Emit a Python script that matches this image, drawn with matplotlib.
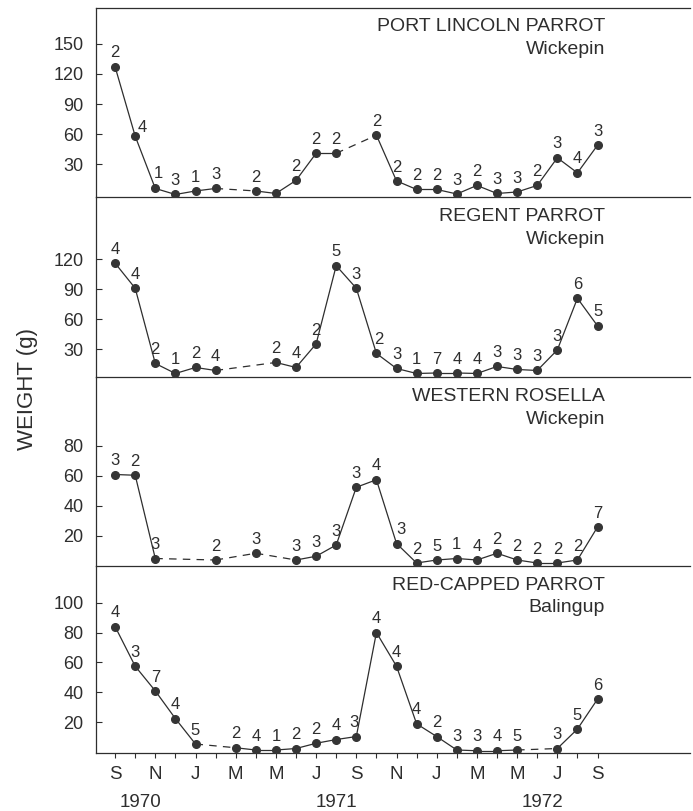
import matplotlib
matplotlib.use("Agg")
import matplotlib.pyplot as plt
import matplotlib.transforms as mtransforms
import numpy as np

nan = np.nan

# months from Sep 1970 (0) to Sep 1972 (24)
months = np.arange(25)
month_letters = ["S", "N", "J", "M", "M", "J", "S", "N", "J", "M", "M", "J", "S"]
years = ["1970", "1971", "1972"]

# mean weight (g) per month, nan = no sample
port_lincoln_wt = [127, 58, 6, 0, 3.5, 6, nan, 3.5, 1, 14, 41, 41, nan, 59,
                   13.5, 5, 5, 0.5, 9, 1, 2.5, 9, 36.5, 21.5, 49]
port_lincoln_n = [2, 4, 1, 3, 1, 3, None, 2, None, 2, 2, 2, None, 2,
                  2, 2, 2, 3, 2, 3, 3, 2, 3, 4, 3]

regent_wt = [116, 91, 16, 6, 12, 9, nan, nan, 17, 12, 35.5, 113.5, 91, 26,
             11, 6, 6.5, 6.5, 6, 13, 10, 9, 29.5, 81, 53.5]
regent_n = [4, 4, 2, 1, 2, 4, None, None, 2, 4, 2, 5, 3, 2,
            3, 1, 7, 4, 4, 3, 3, 3, 3, 6, 5]

rosella_wt = [61, 60.5, 5, nan, nan, 4, nan, 8.5, nan, 4, 6.5, 14, 52.5, 57.5,
              15, 2, 4, 5, 4, 8.5, 4, 2, 2, 4, 26]
rosella_n = [3, 2, 3, None, None, 2, None, 3, None, 3, 3, 3, 3, 4,
             3, 2, 5, 1, 4, 2, 2, 2, 2, 2, 7]

redcap_wt = [84, 57.5, 41, 22.5, 5.5, nan, 3, 1.5, 1.5, 2.5, 6, 8.5, 10.5, 80,
             57.5, 19, 10.5, 1.5, 1, 1, 1.5, nan, 2.5, 15.5, 35.5]
redcap_n = [4, 3, 7, 4, 5, None, 2, 4, 1, 2, 2, 4, 3, 4,
            4, 4, 2, 3, 3, 4, 5, None, 3, 5, 6]

panels = [
    ("PORT LINCOLN PARROT", "Wickepin", port_lincoln_wt, port_lincoln_n,
     [30, 60, 90, 120, 150], (-2.5, 185.5)),
    ("REGENT PARROT", "Wickepin", regent_wt, regent_n,
     [30, 60, 90, 120], (2.5, 182)),
    ("WESTERN ROSELLA", "Wickepin", rosella_wt, rosella_n,
     [20, 40, 60, 80], (0, 126)),
    ("RED-CAPPED PARROT", "Balingup", redcap_wt, redcap_n,
     [20, 40, 60, 80, 100], (-0.5, 124.5)),
]

# small nudges (points) for a few sample-size labels
nudges = {(0, 1): (5, -4), (0, 2): (2, 1), (1, 13): (2, 0), (2, 14): (3, 0),
          (3, 12): (-2, 0)}

ink = "#2e2e2e"
plt.rcParams["font.family"] = ["Liberation Sans", "DejaVu Sans"]
plt.rcParams["text.color"] = ink

W, H = 693, 811
fig = plt.figure(figsize=(W / 100, H / 100), dpi=100)

# panel rows in pixels (top, bottom)
rows = [(8, 197), (197, 377), (377, 566), (566, 753)]
left_px, right_px = 96, 690

axes = []
for k, (title, site, wt, counts, yticks, ylim) in enumerate(panels):
    top, bot = rows[k]
    ax = fig.add_axes([left_px / W, 1 - bot / H, (right_px - left_px) / W, (bot - top) / H])
    ax.patch.set_visible(False)  # keep the separator line of the panel above visible
    axes.append(ax)
    y = np.array(wt, dtype=float)
    idx = np.where(~np.isnan(y))[0]

    # solid between consecutive months, dashed across missing months
    for a, b in zip(idx[:-1], idx[1:]):
        ls = "-" if b - a == 1 else (0, (6, 5))
        ax.plot([months[a], months[b]], [y[a], y[b]], color=ink, lw=0.9, ls=ls)
    ax.plot(months[idx], y[idx], "o", ms=5.5, color="#353535", zorder=3)

    for i, n in enumerate(counts):
        if n is None:
            continue
        dx, dy = nudges.get((k, i), (0, 0))
        ax.annotate(str(n), (months[i], y[i]), xytext=(dx, 10 + dy),
                    textcoords="offset points", ha="center", va="center",
                    fontsize=12, color=ink)

    ax.annotate(title, xy=(0.857, 1), xycoords="axes fraction", xytext=(0, -19),
                textcoords="offset pixels", ha="right", va="center", fontsize=14)
    ax.annotate(site, xy=(0.857, 1), xycoords="axes fraction", xytext=(0, -42),
                textcoords="offset pixels", ha="right", va="center", fontsize=14)

    ax.set_xlim(-0.95, 28.6)
    ax.set_ylim(*ylim)
    ax.set_yticks(yticks)
    ax.tick_params(axis="y", direction="in", length=4.3, width=0.8, pad=9,
                   labelsize=13, colors=ink)
    ax.spines["right"].set_visible(False)
    ax.spines["top"].set_visible(k == 0)
    for s in ax.spines.values():
        s.set_color(ink)
        s.set_linewidth(0.9)

    if k < 3:
        ax.tick_params(axis="x", bottom=False, labelbottom=False)

# month ticks on the bottom panel only
ax = axes[-1]
ax.set_xticks(months)
labels = [""] * len(months)
for j, lab in enumerate(month_letters):
    labels[2 * j] = lab
ax.set_xticklabels(labels)
ax.tick_params(axis="x", direction="out", length=3.6, width=0.8, pad=6,
               labelsize=13.5, colors=ink)

trans = mtransforms.blended_transform_factory(ax.transData, ax.transAxes)
for pos, yr in zip([1.25, 11, 21.25], years):
    ax.text(pos, -0.265, yr, transform=trans, ha="center", va="center", fontsize=13.5)

fig.text(28 / W, 1 - 389 / H, "WEIGHT (g)", rotation=90, ha="center", va="center",
         fontsize=16)

fig.savefig("out.png", dpi=100)
